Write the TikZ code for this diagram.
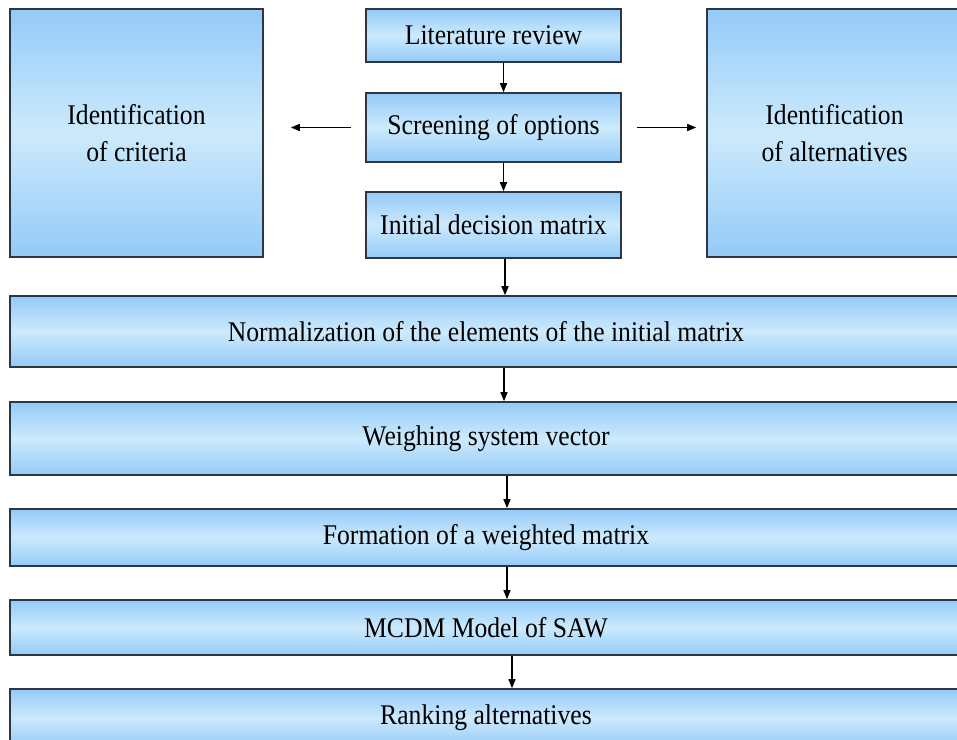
\documentclass[tikz,border=0pt]{standalone}
\usepackage{fontspec}
\setmainfont[FakeStretch=0.9]{Liberation Serif}
\usetikzlibrary{arrows.meta}
\definecolor{boxedge}{RGB}{148,202,248}
\definecolor{boxmid}{RGB}{204,234,252}
\definecolor{boxline}{RGB}{45,55,65}

\begin{document}
\begin{tikzpicture}[x=1pt,y=-1pt,
  box/.style={draw=boxline,line width=1.6pt,top color=boxedge,bottom color=boxedge,middle color=boxmid,
    inner sep=0pt,align=center,font=\fontsize{28.5}{37}\selectfont},
  arr/.style={-{Triangle[length=9pt,width=7pt]},line width=1.4pt}]
\useasboundingbox (0,0) rectangle (957,739);
\clip (0,0) rectangle (957,739);
% top row
\node[box,minimum width=253pt,minimum height=248pt] (crit) at (136.5,133) {Identification\\of criteria};
\node[box,minimum width=255pt,minimum height=248pt] (alt) at (834.5,133) {Identification\\of alternatives};
\node[box,minimum width=255pt,minimum height=53pt] (lit) at (493.5,35.5) {Literature review};
\node[box,minimum width=255pt,minimum height=69pt] (screen) at (493.5,127.5) {Screening of options};
\node[box,minimum width=255pt,minimum height=66pt] (init) at (493.5,225) {Initial decision matrix};
% wide boxes
\node[box,minimum width=952pt,minimum height=71pt] (norm) at (486,331.5) {Normalization of the elements of the initial matrix};
\node[box,minimum width=952pt,minimum height=73pt] (weigh) at (486,438.5) {Weighing system vector};
\node[box,minimum width=952pt,minimum height=57pt] (form) at (486,537.5) {Formation of a weighted matrix};
\node[box,minimum width=952pt,minimum height=55pt] (mcdm) at (486,627.5) {MCDM Model of SAW};
\node[box,minimum width=952pt,minimum height=58pt] (rank) at (486,718) {Ranking alternatives};
% arrows
\draw[arr] ([xshift=10pt]lit.south) -- ([xshift=10pt]screen.north);
\draw[arr] ([xshift=10pt]screen.south) -- ([xshift=10pt]init.north);
\draw[arr] ([xshift=11.5pt]init.south) -- ([xshift=11.5pt]init.south |- norm.north);
\draw[arr] ([xshift=18pt]norm.south) -- ([xshift=18pt]weigh.north);
\draw[arr] ([xshift=21pt]weigh.south) -- ([xshift=21pt]form.north);
\draw[arr] ([xshift=21pt]form.south) -- ([xshift=21pt]mcdm.north);
\draw[arr] ([xshift=26pt]mcdm.south) -- ([xshift=26pt]rank.north);
\draw[arr,shorten <=14pt,shorten >=27pt] (screen.west) -- (screen.west -| crit.east);
\draw[arr,shorten <=15pt,shorten >=10pt] (screen.east) -- (screen.east -| alt.west);
\end{tikzpicture}
\end{document}
